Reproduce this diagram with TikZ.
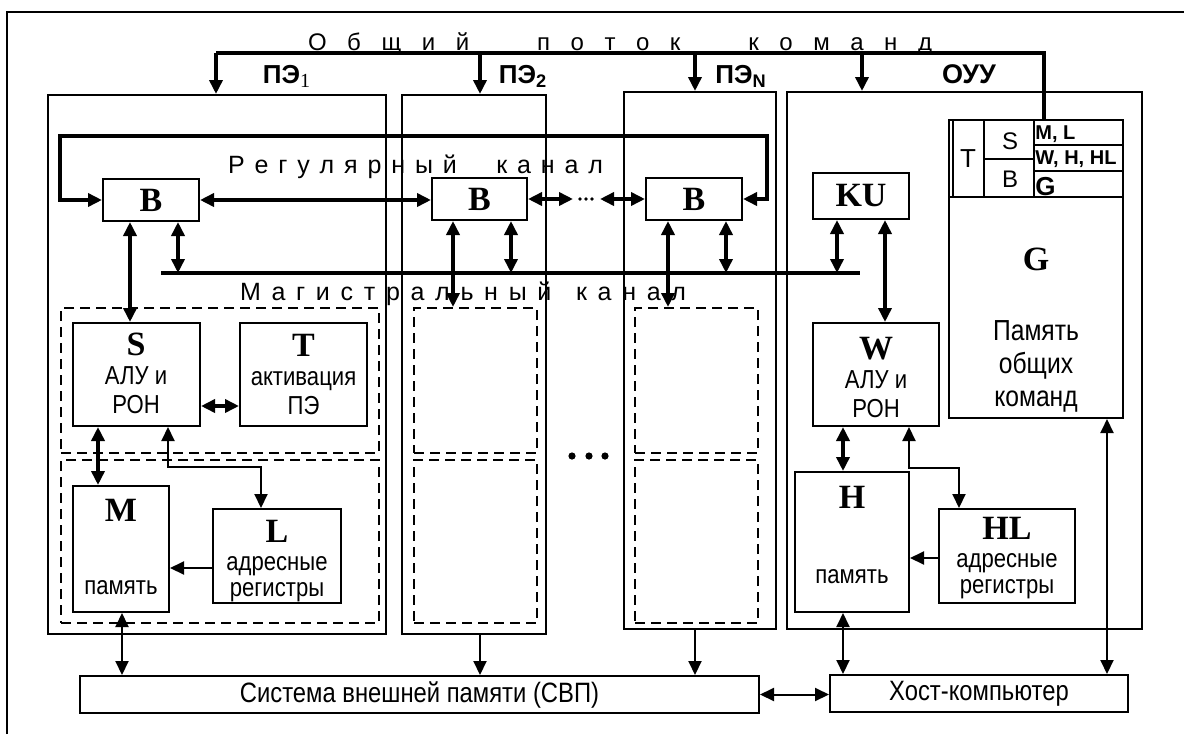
\documentclass[tikz,border=0pt]{standalone}
\usepackage{fontspec}
\setmainfont{Liberation Sans}
\newfontfamily\narrowfont[FakeStretch=0.85]{Liberation Sans}
\newfontfamily\timesfont{Liberation Serif}
\usetikzlibrary{arrows.meta,positioning,fit}
\newcommand\unitname[1]{{\timesfont\bfseries\fontsize{17}{17}\selectfont #1}}
\newcommand\wgap[1]{\hspace{0pt plus #1fill}}
\tikzset{block/.style={draw,line width=1pt,inner sep=0pt},
  zonebox/.style={draw,line width=1pt,dash pattern=on 5pt off 3pt,inner sep=0pt},
  unittext/.style={inner sep=0pt,font=\timesfont\bfseries\fontsize{17}{17}\selectfont},
  notetext/.style={inner sep=0pt,align=center,font=\narrowfont\fontsize{13}{14.5}\selectfont},
  boxtext/.style={inner sep=0pt,font=\narrowfont\fontsize{14}{14}\selectfont},
  chantext/.style={inner sep=0pt,font=\fontsize{12.5}{12.5}\selectfont},
  pelabel/.style={inner sep=0pt,font=\bfseries\fontsize{13}{13}\selectfont},
  celltext/.style={inner sep=0pt,font=\fontsize{12}{12}\selectfont},
  duplex/.style={line width=2pt,<->},
  flow/.style={line width=2pt,->},
  thinduplex/.style={line width=1pt,<->},
  thinflow/.style={line width=1pt,->}}

\begin{document}
\begin{tikzpicture}[x=0.5pt,y=-0.5pt,>={Triangle[length=7pt,width=6.5pt]}]
\useasboundingbox (0,0) rectangle (1184,734);
% outer frame
\draw[line width=1.3pt] (7,734) -- (7,12) -- (1184,12);
% processor elements and control unit
\node[block,fit={(48,95) (386,634)}] (pe1) {};
\node[block,fit={(402,95) (546,634)}] (pe2) {};
\node[block,fit={(624,92) (776,629)}] (pen) {};
\node[block,fit={(787,92) (1142,629)}] (ouu) {};
\node[zonebox,fit={(61,308) (379,453)}] (z1u) {};
\node[zonebox,fit={(61,460) (379,623)}] (z1d) {};
\node[zonebox,fit={(414,308) (537,453)}] (z2u) {};
\node[zonebox,fit={(414,460) (537,623)}] (z2d) {};
\node[zonebox,fit={(635,308) (758,453)}] (znu) {};
\node[zonebox,fit={(635,460) (758,623)}] (znd) {};
% units
\node[block,fit={(103,179) (199,221)}] (b1) {};
\node[block,fit={(432,178) (527,220)}] (b2) {};
\node[block,fit={(646,178) (742,220)}] (bn) {};
\node[block,fit={(813,173) (909,219)}] (ku) {};
\node[block,fit={(73,323) (200,426)}] (s) {};
\node[block,fit={(240,323) (367,426)}] (t) {};
\node[block,fit={(73,486) (169,612)}] (m) {};
\node[block,fit={(213,509) (341,603)}] (l) {};
\node[block,fit={(813,323) (939,426)}] (w) {};
\node[block,fit={(795,472) (909,612)}] (h) {};
\node[block,fit={(939,509) (1075,603)}] (hl) {};
\node[block,fit={(949,120) (1123,418)}] (g) {};
\node[block,fit={(80,676) (759,713)}] (svp) {};
\node[block,fit={(830,675) (1128,712)}] (host) {};
% texts in the units
\node[unittext] (tb1) at (b1) {B};
\node[unittext] (tb2) at (b2) {B};
\node[unittext] (tbn) at (bn) {B};
\node[unittext] (tku) at (ku) {KU};
\node[boxtext] (tsvp) at (svp) {Система внешней памяти (СВП)};
\node[boxtext] (thost) at (host) {Хост-компьютер};
\node[notetext] (ts) at (136,373) {\unitname{S}\\АЛУ и\\РОН};
\node[notetext] (tt) at (303.5,374) {\unitname{T}\\активация\\ПЭ};
\node[notetext] (tw) at (876,377) {\unitname{W}\\АЛУ и\\РОН};
\node[notetext] (tm) at (121,547) {\unitname{M}\\[22pt]память};
\node[notetext] (th) at (852,535) {\unitname{H}\\[23pt]память};
\node[notetext,font=\narrowfont\fontsize{13}{13}\selectfont] (tl) at (277,561) {\unitname{L}\\[1pt]адресные\\регистры};
\node[notetext,font=\narrowfont\fontsize{13}{13}\selectfont] (thl) at (1007,558) {\unitname{HL}\\[1pt]адресные\\регистры};
\node[notetext,font=\narrowfont\fontsize{14.5}{16.5}\selectfont] (tg) at (1036,330) {\unitname{G}\\[18.5pt]Память\\общих\\команд};
% command table
\draw[line width=0.7pt] (953,120) -- (953,197) (984,120) -- (984,197) (1034,120) -- (1034,197)
  (984,159) -- (1034,159) (1034,145) -- (1123,145) (1034,171) -- (1123,171) (949,197) -- (1123,197);
\node[celltext,font=\fontsize{13}{13}\selectfont] (ct) at (968,159) {T};
\node[celltext] (cs) at (1010,141) {S};
\node[celltext] (cb) at (1010,179) {B};
\node[celltext,anchor=west,font=\bfseries\fontsize{10}{10}\selectfont] (cml) at (1035,134) {M, L};
\node[celltext,anchor=west,font=\bfseries\fontsize{10}{10}\selectfont] (cwh) at (1035,159) {W, H, HL};
\node[celltext,anchor=west,font=\bfseries\fontsize{13}{13}\selectfont] (cg) at (1035,187) {G};
% labels
\node[chantext,anchor=base,font=\fontsize{12}{12}\selectfont] (cmdtext) at (620,50) {\makebox[312pt]{О\hfill б\hfill щ\hfill и\hfill й\wgap{3.3}п\hfill о\hfill т\hfill о\hfill к\wgap{3.3}к\hfill о\hfill м\hfill а\hfill н\hfill д}};
\node[chantext,anchor=base] (regtext) at (415.5,173) {\makebox[187.5pt]{Р\hfill е\hfill г\hfill у\hfill л\hfill я\hfill р\hfill н\hfill ы\hfill й\wgap{4}к\hfill а\hfill н\hfill а\hfill л}};
\node[chantext,anchor=base] (magtext) at (463,300) {\makebox[223pt]{М\hfill а\hfill г\hfill и\hfill с\hfill т\hfill р\hfill а\hfill л\hfill ь\hfill н\hfill ы\hfill й\wgap{2.3}к\hfill а\hfill н\hfill а\hfill л}};
\node[pelabel,anchor=base] (lpe1) at (287,83) {ПЭ\textsubscript{\timesfont\mdseries\fontsize{10}{10}\selectfont 1}};
\node[pelabel,anchor=base] (lpe2) at (523,83) {ПЭ\textsubscript{2}};
\node[pelabel,anchor=base] (lpen) at (741,83) {ПЭ\textsubscript{N}};
\node[pelabel,anchor=base,font=\bfseries\fontsize{13.5}{13.5}\selectfont] (louu) at (969,83) {ОУУ};
% common command stream
\coordinate (cmdw) at (216,53);
\coordinate (cmde) at (1044,53);
\draw[line width=2pt] (cmdw) -- (cmde) -- (g.north -| cmde);
\foreach \x/\n in {216/pe1,480/pe2,695/pen,862/ouu}
\draw[flow] (cmdw -| \x,0) -- (\n.north -| \x,0);
% regular channel
\draw[duplex] (b1.west) -- (b1.west -| 60,0) |- (767,136) |- (bn.east);
\draw[duplex] (b1.east) -- (b1.east -| b2.west);
\coordinate (dotw) at (573,199);
\coordinate (dote) at (600,199);
\draw[duplex] (b2.east) -- (dotw);
\draw[duplex] (dote) -- (bn.west);
\foreach \x in {580,586,592} \fill (\x,199) circle (0.9pt);
% trunk channel
\coordinate (busw) at (161,273);
\coordinate (buse) at (860,273);
\draw[line width=2.2pt] (busw) -- (buse);
\foreach \x/\a/\b in {130/b1/s,453/b2/z2u,668/bn/znu,885/ku/w,98/s/m,843/w/h}
\draw[duplex] (\a.south -| \x,0) -- (\b.north -| \x,0);
\foreach \x/\a in {178/b1,511/b2,726/bn,837/ku}
\draw[duplex] (\a.south -| \x,0) -- (busw -| \x,0);
\draw[duplex] (s.east |- 0,406) -- (t.west |- 0,406);
% address registers
\draw[thinduplex] (s.south -| 168,0) |- (261,467) -- (l.north -| 261,0);
\draw[thinflow] (l.west |- 0,568) -- (m.east |- 0,568);
\draw[thinduplex] (w.south -| 909,0) |- (959,468) -- (hl.north -| 959,0);
\draw[thinflow] (hl.west |- 0,558) -- (h.east |- 0,558);
% external memory and host
\foreach \x/\a/\b in {122/m/svp,843/h/host,1107/g/host}
\draw[thinduplex] (\a.south -| \x,0) -- (\b.north -| \x,0);
\foreach \x/\a in {480/pe2,695/pen}
\draw[thinflow] (\a.south -| \x,0) -- (svp.north -| \x,0);
\draw[thinduplex] (svp.east) -- (svp.east -| host.west);
\foreach \x in {572,589,605} \fill (\x,456) circle (1.8pt);
\end{tikzpicture}
\end{document}
